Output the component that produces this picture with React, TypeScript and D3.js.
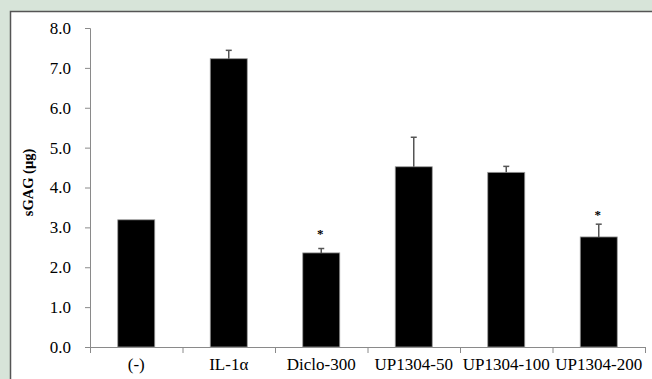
import { useRef, useEffect } from 'react';
import * as d3 from 'd3';

// sGAG content per treatment group
const categories = ['(-)', 'IL-1α', 'Diclo-300', 'UP1304-50', 'UP1304-100', 'UP1304-200'];
const values = [3.19, 7.23, 2.36, 4.52, 4.38, 2.76];
const errors = [0, 0.21, 0.11, 0.74, 0.15, 0.32];
// asterisk positions (in µg) for significant groups, null = none
const starAt: (number | null)[] = [null, null, 2.88, null, null, 3.36];
const yTicks = [0, 1, 2, 3, 4, 5, 6, 7, 8];

export default function App() {
  const ref = useRef<SVGSVGElement>(null);

  useEffect(() => {
    if (!ref.current) return;
    const width = 652;
    const height = 379;
    const svg = d3.select(ref.current);
    svg.selectAll('*').remove();

    const marginLeft = 90;
    const marginRight = 7;
    const marginTop = 28;
    const plotBottom = 347;

    // background + white panel
    svg.append('rect').attr('width', width).attr('height', height).attr('fill', '#d7e4d9');
    svg.append('rect')
      .attr('x', 10.5).attr('y', 11.5)
      .attr('width', width).attr('height', height)
      .attr('fill', '#fff')
      .attr('stroke', '#555').attr('stroke-width', 1.5);

    const x = d3.scaleBand<string>()
      .domain(categories)
      .range([marginLeft, width - marginRight])
      .paddingInner(0.6)
      .paddingOuter(0.3);

    const y = d3.scaleLinear().domain([0, 8]).range([plotBottom, marginTop]);

    const font = '"Liberation Serif", "Times New Roman", serif';

    // y axis
    const yAxis = svg.append('g')
      .attr('transform', `translate(${marginLeft},0)`)
      .call(d3.axisLeft(y).tickValues(yTicks).tickFormat(d3.format('.1f')).tickSize(5).tickPadding(14));
    yAxis.selectAll('path, line').attr('stroke', '#8a8a8a');
    yAxis.selectAll('text').attr('font-family', font).attr('font-size', 17).attr('fill', '#000');

    // x axis: ticks on band boundaries
    const step = x.step();
    const x0 = marginLeft;
    svg.append('line')
      .attr('x1', x0).attr('x2', width - marginRight)
      .attr('y1', plotBottom + 0.5).attr('y2', plotBottom + 0.5)
      .attr('stroke', '#8a8a8a');
    svg.selectAll('line.xtick')
      .data(d3.range(categories.length + 1))
      .join('line')
      .attr('class', 'xtick')
      .attr('x1', i => x0 + i * step + 0.5)
      .attr('x2', i => x0 + i * step + 0.5)
      .attr('y1', plotBottom)
      .attr('y2', plotBottom + 6)
      .attr('stroke', '#8a8a8a');

    svg.selectAll('text.xlabel')
      .data(categories)
      .join('text')
      .attr('class', 'xlabel')
      .attr('x', d => x(d)! + x.bandwidth() / 2)
      .attr('y', 370)
      .attr('text-anchor', 'middle')
      .attr('font-family', font)
      .attr('font-size', 17)
      .text(d => d);

    // bars
    svg.selectAll('rect.bar')
      .data(values)
      .join('rect')
      .attr('class', 'bar')
      .attr('x', (_, i) => x(categories[i])!)
      .attr('y', d => y(d))
      .attr('width', x.bandwidth())
      .attr('height', d => y(0) - y(d))
      .attr('fill', '#000')
      .attr('stroke', '#999')
      .attr('stroke-width', 0.8);

    // error bars
    const eb = svg.append('g').attr('stroke', '#555').attr('stroke-width', 1.5);
    values.forEach((v, i) => {
      if (!errors[i]) return;
      const cx = x(categories[i])! + x.bandwidth() / 2;
      eb.append('line').attr('x1', cx).attr('x2', cx).attr('y1', y(v)).attr('y2', y(v + errors[i]));
      eb.append('line').attr('x1', cx - 3).attr('x2', cx + 3).attr('y1', y(v + errors[i])).attr('y2', y(v + errors[i]));
    });

    // significance markers
    svg.selectAll('text.star')
      .data(categories.map((c, i) => ({ c, s: starAt[i] })).filter(d => d.s !== null))
      .join('text')
      .attr('class', 'star')
      .attr('x', d => x(d.c)! + x.bandwidth() / 2 - 1)
      .attr('y', d => y(d.s as number) + 6)
      .attr('text-anchor', 'middle')
      .attr('font-family', font)
      .attr('font-weight', 'bold')
      .attr('font-size', 13)
      .text('*');

    // y axis title
    svg.append('text')
      .attr('transform', `translate(33,${(marginTop + plotBottom) / 2 - 5}) rotate(-90)`)
      .attr('text-anchor', 'middle')
      .attr('font-family', font)
      .attr('font-weight', 'bold')
      .attr('font-size', 14.5)
      .text('sGAG (μg)');
  }, []);

  return (
    <svg
      ref={ref}
      width={652}
      height={379}
      style={{ position: 'absolute', left: 0, top: 0, display: 'block' }}
    />
  );
}
